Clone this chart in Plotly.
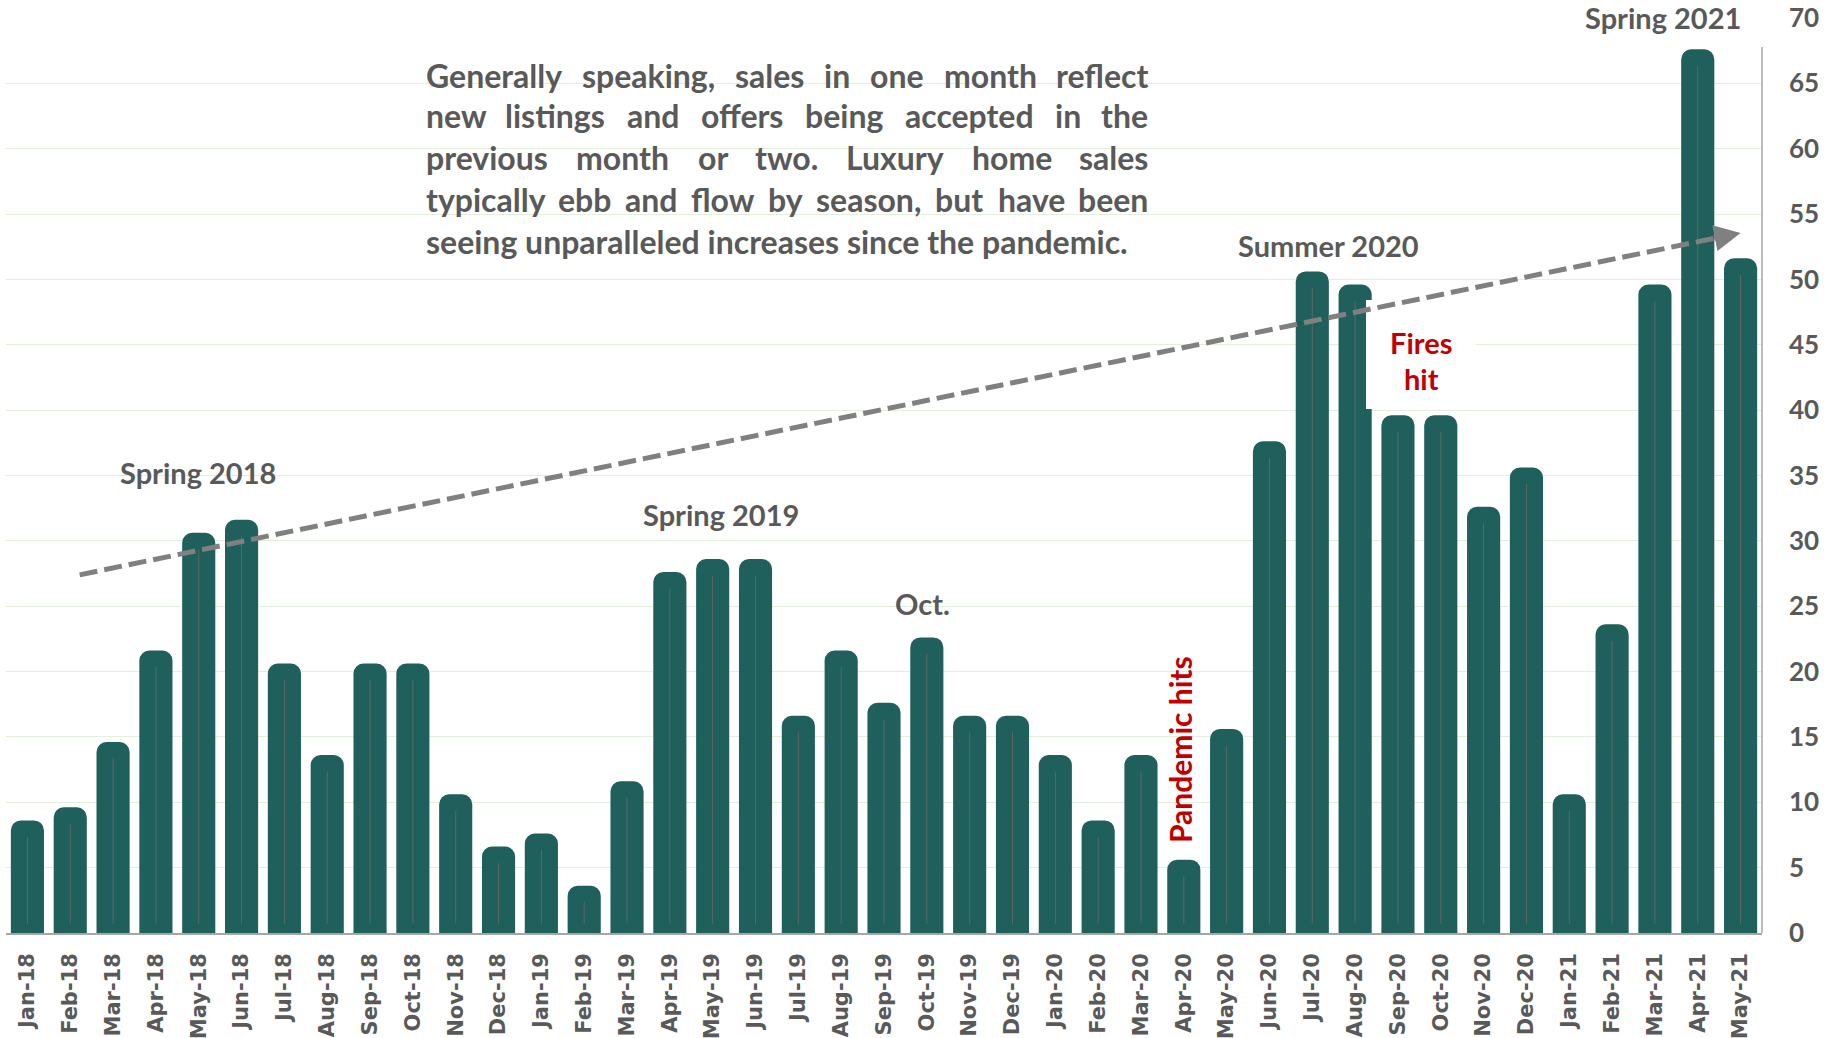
import plotly.graph_objects as go

# ---------------- data ----------------
months = ["Jan-18", "Feb-18", "Mar-18", "Apr-18", "May-18", "Jun-18", "Jul-18", "Aug-18",
          "Sep-18", "Oct-18", "Nov-18", "Dec-18",
          "Jan-19", "Feb-19", "Mar-19", "Apr-19", "May-19", "Jun-19", "Jul-19", "Aug-19",
          "Sep-19", "Oct-19", "Nov-19", "Dec-19",
          "Jan-20", "Feb-20", "Mar-20", "Apr-20", "May-20", "Jun-20", "Jul-20", "Aug-20",
          "Sep-20", "Oct-20", "Nov-20", "Dec-20",
          "Jan-21", "Feb-21", "Mar-21", "Apr-21", "May-21"]
sales = [8, 9, 14, 21, 30, 31, 20, 13, 20, 20, 10, 6,
         7, 3, 11, 27, 28, 28, 16, 21, 17, 22, 16, 16,
         13, 8, 13, 5, 15, 37, 50, 49, 39, 39, 32, 35,
         10, 23, 49, 67, 51]
trend_x = [1.22, 40.0]      # category index positions of trend arrow
trend_y = [27.4, 53.56]     # values at both ends
y_ticks = list(range(0, 71, 5))

paragraph_lines = [
    "Generally speaking, sales in one month reflect",
    "new listings and offers being accepted in the",
    "previous month or two. Luxury home sales",
    "typically ebb and flow by season, but have been",
]
paragraph_last = "seeing unparalleled increases since the pandemic."

# ---------------- style ----------------
W, H = 1835, 1038
L, R, T, B = 6, 1762, 18, 933
BAR = "#1F605D"
GRID = "#E4EFDB"
GREY = "#595959"
RED = "#C00000"
AXIS = "#A6A6A6"
FONT = "Lato"


def px_x(px):
    return (px - L) / (R - L)


def px_y(py):
    return (B - py) / (B - T)


fig = go.Figure()

fig.add_trace(go.Bar(
    x=months, y=sales, width=0.40,
    marker=dict(color=BAR, line=dict(color=BAR, width=16), cornerradius=2),
    hoverinfo="x+y",
))

# thin grey line inside each bar
lx, ly = [], []
for m, v in zip(months, sales):
    lx += [m, m, None]
    ly += [0.7, v - 0.65, None]
fig.add_trace(go.Scatter(x=lx, y=ly, mode="lines",
                         line=dict(color="rgba(105,105,105,0.85)", width=1),
                         hoverinfo="skip"))

shapes = []


def white_box(x0, x1, y0, y1, layer="between"):
    shapes.append(dict(type="rect", xref="paper", yref="paper",
                       x0=px_x(x0), x1=px_x(x1), y0=px_y(y1), y1=px_y(y0),
                       fillcolor="white", line=dict(width=0), layer=layer))


white_box(404, 1170, 28, 266)      # paragraph
white_box(843, 1004, 586, 628)     # Oct.
white_box(112, 286, 458, 490)      # Spring 2018
white_box(1568, 1762, 0, 47)       # Spring 2021
white_box(1366, 1476, 300, 409, layer="above")  # Fires hit

# right axis line
shapes.append(dict(type="line", xref="paper", yref="paper", x0=1, x1=1,
                   y0=0, y1=px_y(47), line=dict(color=AXIS, width=1.5), layer="above"))

# dashed trend line
shapes.append(dict(type="line", xref="x", yref="y",
                   x0=trend_x[0], y0=trend_y[0],
                   x1=trend_x[1] - 0.34, y1=trend_y[1] - 0.23,
                   line=dict(color="#808080", width=5, dash="18px,7px"), layer="above"))

annotations = []
annotations.append(dict(xref="x", yref="y", x=trend_x[1], y=trend_y[1],
                        ax=-28, ay=5.7, text="", showarrow=True,
                        arrowhead=2, arrowsize=1.05, arrowwidth=5, arrowcolor="#808080",
                        standoff=0))


def label(text, cx, cy, color=GREY, size=29, angle=0):
    annotations.append(dict(xref="paper", yref="paper", x=px_x(cx), y=px_y(cy),
                            xanchor="center", yanchor="middle", text=text,
                            showarrow=False, textangle=angle,
                            font=dict(family=FONT, size=size, color=color, weight=700)))


label("Spring 2018", 198, 472)
label("Spring 2019", 721, 514)
label("Oct.", 922, 603)
label("Summer 2020", 1328, 245)
label("Spring 2021", 1663, 17)
label("Fires", 1421, 342, color=RED)
label("hit", 1421, 378, color=RED)
label("Pandemic hits", 1180, 750, color=RED, size=30, angle=-90)

# ---- justified paragraph: one annotation per word, evenly spread ----
PSIZE = 32
CW = {"a": .51, "b": .56, "c": .45, "d": .56, "e": .52, "f": .33, "g": .50, "h": .56,
      "i": .25, "j": .25, "k": .52, "l": .25, "m": .84, "n": .56, "o": .56, "p": .56,
      "q": .56, "r": .38, "s": .42, "t": .36, "u": .56, "v": .51, "w": .77, "x": .50,
      "y": .51, "z": .45, "G": .70, "L": .48, ",": .22, ".": .22}


def text_w(word):
    return sum(CW.get(ch, .55) for ch in word) * PSIZE * 1.03


PL, PR = 424, 1150
line_y = [75, 116, 158, 199, 241]
pfont = dict(family=FONT, size=PSIZE, color=GREY, weight=700)
for cy, line in zip(line_y, paragraph_lines):
    words = line.split(" ")
    widths = [text_w(w) for w in words]
    gap = (PR - PL - sum(widths)) / (len(words) - 1)
    x = PL
    for w, wd in zip(words, widths):
        annotations.append(dict(xref="paper", yref="paper", x=px_x(x + wd / 2), y=px_y(cy),
                                xanchor="center", yanchor="middle", text=w,
                                showarrow=False, font=pfont))
        x += wd + gap
    # pin first and last words exactly at the edges
    n = len(words)
    annotations[-n]["x"] = px_x(PL)
    annotations[-n]["xanchor"] = "left"
    annotations[-1]["x"] = px_x(PR)
    annotations[-1]["xanchor"] = "right"
annotations.append(dict(xref="paper", yref="paper", x=px_x(PL), y=px_y(line_y[4]),
                        xanchor="left", yanchor="middle", text=paragraph_last,
                        showarrow=False, font=pfont))

fig.update_layout(
    width=W, height=H, autosize=False,
    margin=dict(l=L, r=W - R, t=T, b=H - B, pad=0),
    plot_bgcolor="white", paper_bgcolor="white",
    showlegend=False,
    shapes=shapes, annotations=annotations,
    xaxis=dict(type="category", range=[-0.5, len(months) - 0.5],
               showgrid=False, zeroline=False, automargin=False,
               showline=True, linecolor=AXIS, linewidth=1.5,
               ticks="", tickangle=-90, ticklabelstandoff=10,
               tickfont=dict(family="DejaVu Sans", size=21, color=GREY, weight=700)),
    yaxis=dict(side="right", range=[0, 70], tickvals=y_ticks, automargin=False,
               showgrid=True, gridcolor=GRID, gridwidth=1.2,
               zeroline=False, showline=False, ticks="",
               ticklabelstandoff=26,
               tickfont=dict(family=FONT, size=26, color=GREY, weight=700)),
)

fig.write_html("out.html", config={"displayModeBar": False},
               post_script="document.body.style.margin='0';document.body.style.overflow='hidden';")
